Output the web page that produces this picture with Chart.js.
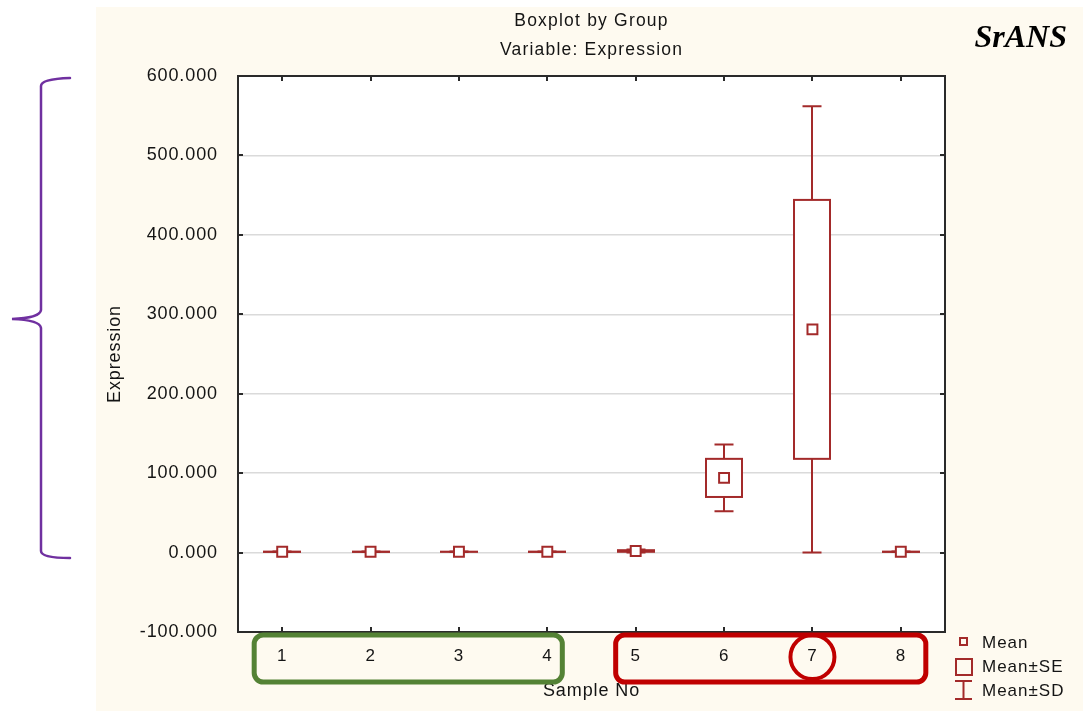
<!DOCTYPE html>
<html><head><meta charset="utf-8">
<style>
html,body{margin:0;padding:0;background:#fff;overflow:hidden}
#wrap{position:relative;width:1083px;height:711px}
</style>
<script src="https://cdn.jsdelivr.net/npm/chart.js@4.4.1/dist/chart.umd.min.js"></script>
</head><body>
<div id="wrap"><canvas id="c" width="1083" height="711"></canvas></div>
<script>
// Expression per sample: mean, standard error and standard deviation
const sampleNo = ['1', '2', '3', '4', '5', '6', '7', '8'];
const meanExpr = [1, 1, 1, 1, 2, 94, 281, 1];
const seExpr   = [0.2, 0.2, 0.1, 0.2, 1, 24, 163, 0.2];
const sdExpr   = [0.4, 0.3, 0.3, 0.4, 2, 42, 281, 0.3];
const yTicks   = [-100, 0, 100, 200, 300, 400, 500, 600];

const RED = '#a32a2a';
const TEXT = '#141414';
const FONT = '"Liberation Sans", Arial, sans-serif';
const BOX_W = 36, CAP_W = 19;

function spacing(chart) { chart.ctx.letterSpacing = '0.9px'; }

const pagePlugin = {
  id: 'page',
  beforeUpdate: spacing,
  beforeDraw(chart) {
    const ctx = chart.ctx;
    ctx.save();
    ctx.fillStyle = '#ffffff';
    ctx.fillRect(0, 0, chart.width, chart.height);
    ctx.fillStyle = '#fefaf0';
    ctx.fillRect(96, 7, chart.width - 96, chart.height - 7);
    const a = chart.chartArea;
    ctx.fillStyle = '#ffffff';
    ctx.fillRect(a.left, a.top, a.right - a.left, a.bottom - a.top);
    // titles
    const cx = (a.left + a.right) / 2;
    ctx.fillStyle = TEXT;
    ctx.font = '17.5px ' + FONT;
    ctx.textAlign = 'center';
    ctx.textBaseline = 'middle';
    ctx.letterSpacing = '1.2px';
    ctx.fillText('Boxplot by Group', cx, 21);
    ctx.fillText('Variable: Expression', cx, 50);
    ctx.restore();
    spacing(chart);
  }
};

const boxPlugin = {
  id: 'meanBoxes',
  beforeDatasetsDraw(chart) {
    const {ctx, scales: {x, y}} = chart;
    ctx.save();
    ctx.strokeStyle = RED;
    ctx.lineWidth = 2;
    ctx.fillStyle = '#ffffff';
    meanExpr.forEach((m, i) => {
      const cx = Math.round(x.getPixelForValue(i));
      const sdHi = y.getPixelForValue(m + sdExpr[i]);
      const sdLo = y.getPixelForValue(m - sdExpr[i]);
      const seHi = y.getPixelForValue(m + seExpr[i]);
      const seLo = y.getPixelForValue(m - seExpr[i]);
      ctx.beginPath();
      ctx.moveTo(cx, sdHi); ctx.lineTo(cx, seHi);
      ctx.moveTo(cx, seLo); ctx.lineTo(cx, sdLo);
      ctx.moveTo(cx - CAP_W / 2, sdHi); ctx.lineTo(cx + CAP_W / 2, sdHi);
      ctx.moveTo(cx - CAP_W / 2, sdLo); ctx.lineTo(cx + CAP_W / 2, sdLo);
      ctx.stroke();
      ctx.fillRect(cx - BOX_W / 2, seHi, BOX_W, seLo - seHi);
      ctx.strokeRect(cx - BOX_W / 2, seHi, BOX_W, seLo - seHi);
    });
    ctx.restore();
  }
};

const framePlugin = {
  id: 'frame',
  afterDatasetsDraw(chart) {
    const {ctx, chartArea: a, scales: {x, y}} = chart;
    ctx.save();
    ctx.strokeStyle = '#2a2a2a';
    ctx.lineWidth = 2;
    ctx.strokeRect(a.left, a.top, a.right - a.left, a.bottom - a.top);
    ctx.beginPath();
    yTicks.slice(1, -1).forEach(v => {
      const py = Math.round(y.getPixelForValue(v));
      ctx.moveTo(a.left, py); ctx.lineTo(a.left + 5, py);
      ctx.moveTo(a.right, py); ctx.lineTo(a.right - 5, py);
    });
    sampleNo.forEach((s, i) => {
      const px = Math.round(x.getPixelForValue(i));
      ctx.moveTo(px, a.top); ctx.lineTo(px, a.top + 5);
      ctx.moveTo(px, a.bottom); ctx.lineTo(px, a.bottom - 5);
    });
    ctx.stroke();
    ctx.restore();
  }
};

const notesPlugin = {
  id: 'notes',
  afterDraw(chart) {
    const {ctx, scales: {x}} = chart;
    ctx.save();
    ctx.letterSpacing = '0px';

    // legend
    ctx.strokeStyle = RED;
    ctx.lineWidth = 2;
    ctx.strokeRect(960, 638, 7, 7);
    ctx.strokeRect(956, 659, 16, 16);
    ctx.beginPath();
    ctx.moveTo(955, 681); ctx.lineTo(972, 681);
    ctx.moveTo(963.5, 681); ctx.lineTo(963.5, 699);
    ctx.moveTo(955, 699); ctx.lineTo(972, 699);
    ctx.stroke();
    ctx.fillStyle = TEXT;
    ctx.font = '17px ' + FONT;
    ctx.textAlign = 'left';
    ctx.textBaseline = 'middle';
    ctx.letterSpacing = '1px';
    ctx.fillText('Mean', 982, 643);
    ctx.fillText('Mean\u00B1SE', 982, 667);
    ctx.fillText('Mean\u00B1SD', 982, 691);
    ctx.letterSpacing = '0px';

    // sample group outlines
    const rr = (l, t, r, b, rad) => {
      ctx.beginPath();
      ctx.roundRect(l, t, r - l, b - t, rad);
      ctx.stroke();
    };
    ctx.lineWidth = 5;
    ctx.strokeStyle = '#548235';
    rr(x.getPixelForValue(0) - 28, 635, x.getPixelForValue(3) + 15, 682, 9);
    ctx.strokeStyle = '#c00000';
    rr(x.getPixelForValue(4) - 20, 635, x.getPixelForValue(7) + 25, 682, 9);
    ctx.lineWidth = 4;
    ctx.beginPath();
    ctx.arc(x.getPixelForValue(6), 657, 22, 0, Math.PI * 2);
    ctx.stroke();

    // bracket on the left
    ctx.strokeStyle = '#7030a0';
    ctx.lineWidth = 2.5;
    ctx.lineCap = 'round';
    ctx.beginPath();
    ctx.moveTo(70, 78);
    ctx.quadraticCurveTo(41, 79, 41, 86);
    ctx.lineTo(41, 310);
    ctx.quadraticCurveTo(40, 318, 12, 319);
    ctx.quadraticCurveTo(40, 320, 41, 328);
    ctx.lineTo(41, 551);
    ctx.quadraticCurveTo(41, 558, 70, 558);
    ctx.stroke();

    // gene name
    ctx.fillStyle = '#000000';
    ctx.font = 'italic bold 32px "Liberation Serif", "Times New Roman", serif';
    ctx.textAlign = 'right';
    ctx.textBaseline = 'alphabetic';
    ctx.fillText('SrANS', 1067, 47);
    ctx.restore();
  }
};

new Chart(document.getElementById('c'), {
  type: 'line',
  data: {
    labels: sampleNo,
    datasets: [{
      label: 'Mean',
      data: meanExpr,
      showLine: false,
      pointStyle: 'rect',
      pointRadius: 7,
      pointHoverRadius: 7,
      pointBorderWidth: 2,
      pointBorderColor: RED,
      pointBackgroundColor: '#ffffff'
    }]
  },
  options: {
    responsive: false,
    devicePixelRatio: 1,
    animation: false,
    events: [],
    layout: { padding: { left: 100, top: 76, right: 138, bottom: 0 } },
    plugins: { legend: { display: false }, tooltip: { enabled: false }, title: { display: false } },
    scales: {
      x: {
        type: 'category',
        offset: true,
        afterFit: s => { s.height = 79; },
        grid: { display: false, drawTicks: false },
        border: { display: false },
        ticks: { color: TEXT, font: { family: FONT, size: 17 }, padding: 14, maxRotation: 0 },
        title: { display: true, text: 'Sample No', color: TEXT, font: { family: FONT, size: 18 }, padding: { top: 0, bottom: 9 } }
      },
      y: {
        min: -100,
        max: 600,
        afterFit: s => { s.width = 138; },
        afterBuildTicks: s => { s.ticks = yTicks.map(v => ({ value: v })); },
        grid: {
          drawTicks: false,
          lineWidth: 1.5,
          color: c => (c.tick && c.tick.value > -100 && c.tick.value < 600) ? '#dadada' : 'rgba(0,0,0,0)'
        },
        border: { display: false },
        ticks: { color: TEXT, font: { family: FONT, size: 18 }, padding: 20, callback: v => Number(v).toFixed(3) },
        title: { display: true, text: 'Expression', color: TEXT, font: { family: FONT, size: 18 }, padding: { top: 4, bottom: 0 } }
      }
    }
  },
  plugins: [pagePlugin, boxPlugin, framePlugin, notesPlugin]
});
</script>
</body></html>
